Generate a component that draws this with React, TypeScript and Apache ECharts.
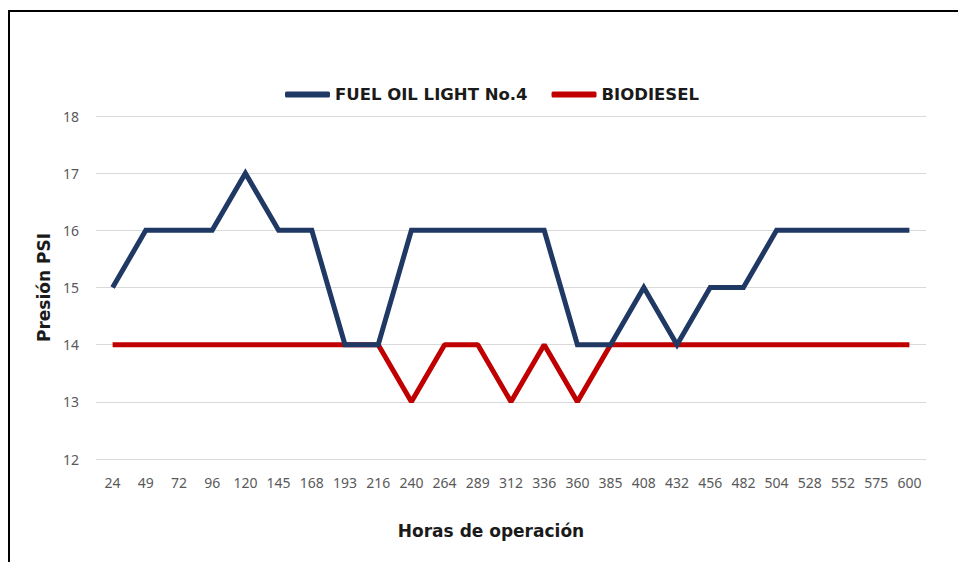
import React, { useEffect, useRef } from "react";
import * as echarts from "echarts";

const hours = ["24","49","72","96","120","145","168","193","216","240","264","289","312","336","360","385","408","432","456","482","504","528","552","575","600"];
const fuelOil = [15,16,16,16,17,16,16,14,14,16,16,16,16,16,14,14,15,14,15,15,16,16,16,16,16];
const biodiesel = [14,14,14,14,14,14,14,14,14,13,14,14,13,14,13,14,14,14,14,14,14,14,14,14,14];
const yTicks = { min: 12, max: 18, interval: 1 };

const boldFont = { fontFamily: "DejaVu Sans", fontWeight: "bold", fontSize: 17, color: "#1a1a1a" };

export default function App() {
  const ref = useRef<HTMLDivElement>(null);
  useEffect(() => {
    if (!ref.current) return;
    const chart = echarts.init(ref.current, undefined, { renderer: "svg" });
    chart.setOption({
      animation: false,
      backgroundColor: "#fff",
      graphic: [
        {
          type: "rect",
          shape: { x: 9, y: 11, width: 1000, height: 700 },
          style: { fill: "none", stroke: "#000", lineWidth: 2 },
          silent: true,
        },
      ],
      legend: {
        left: 280,
        top: 81,
        icon: "roundRect",
        itemWidth: 45,
        itemHeight: 6,
        itemGap: 24,
        textStyle: { ...boldFont, fontSize: 16.5 },
        data: ["FUEL OIL LIGHT No.4", "BIODIESEL"],
      },
      grid: { left: 96, right: 32, top: 116, bottom: 103 },
      xAxis: {
        type: "category",
        data: hours,
        boundaryGap: true,
        axisLine: { show: false },
        axisTick: { show: false },
        axisLabel: { color: "#595959", fontFamily: "Noto Sans", fontSize: 14, margin: 16, interval: 0 },
        name: "Horas de operación",
        nameLocation: "middle",
        nameGap: 63,
        nameTextStyle: { ...boldFont, padding: [0, 40, 0, 0] },
      },
      yAxis: {
        type: "value",
        min: yTicks.min,
        max: yTicks.max,
        interval: yTicks.interval,
        axisLine: { show: false },
        axisTick: { show: false },
        splitLine: { lineStyle: { color: "#d9d9d9", width: 1 } },
        axisLabel: { color: "#595959", fontFamily: "Noto Sans", fontSize: 14, margin: 17 },
        name: "Presión PSI",
        nameLocation: "middle",
        nameGap: 42,
        nameRotate: 90,
        nameTextStyle: boldFont,
      },
      series: [
        {
          name: "FUEL OIL LIGHT No.4",
          type: "line",
          data: fuelOil,
          showSymbol: false,
          symbol: "none",
          itemStyle: { color: "#203864" },
          lineStyle: { color: "#203864", width: 5, join: "miter" },
          z: 3,
        },
        {
          name: "BIODIESEL",
          type: "line",
          data: biodiesel,
          showSymbol: false,
          symbol: "none",
          itemStyle: { color: "#c00000" },
          lineStyle: { color: "#c00000", width: 5 },
          z: 2,
        },
      ],
    });
    return () => chart.dispose();
  }, []);
  return (
    <div style={{ position: "absolute", left: 0, top: 0, width: 958, height: 562, overflow: "hidden" }}>
      <div ref={ref} style={{ width: 958, height: 562 }} />
    </div>
  );
}
